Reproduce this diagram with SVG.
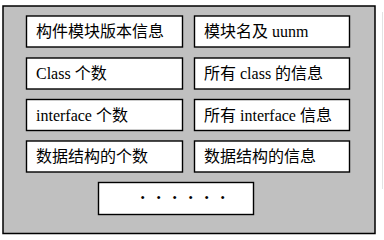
<svg xmlns="http://www.w3.org/2000/svg" width="384" height="240" viewBox="0 0 384 240">
  <style>
    .frame { fill: #c0c0c0; stroke: #000; stroke-width: 1.5; }
    .box { fill: #fff; stroke: #000; stroke-width: 1.4; }
    .label { font-family: "Liberation Serif", "Noto Sans CJK SC", serif; font-size: 16px; fill: #000; }
    .dots { font-family: "Liberation Sans", sans-serif; font-size: 11px; fill: #000; text-anchor: middle; }
  </style>
  <rect width="384" height="240" fill="#fff"/>
  <line x1="382.5" y1="12" x2="382.5" y2="189" stroke="#e2e2e2" stroke-width="1"/>
  <rect class="frame" x="3" y="6" width="372" height="227.5"/>

  <g id="module-version">
    <rect class="box" x="26.5" y="16" width="156" height="31"/>
    <text class="label" x="36" y="37">构件模块版本信息</text>
  </g>
  <g id="module-name">
    <rect class="box" x="194.5" y="16" width="155" height="31"/>
    <text class="label" x="204" y="37">模块名及 uunm</text>
  </g>
  <g id="class-count">
    <rect class="box" x="26.5" y="58" width="156" height="31"/>
    <text class="label" x="36" y="79">Class 个数</text>
  </g>
  <g id="class-info">
    <rect class="box" x="194.5" y="58" width="155" height="31"/>
    <text class="label" x="204" y="79">所有 class 的信息</text>
  </g>
  <g id="interface-count">
    <rect class="box" x="26.5" y="99.5" width="156" height="31"/>
    <text class="label" x="36" y="120.5">interface 个数</text>
  </g>
  <g id="interface-info">
    <rect class="box" x="194.5" y="99.5" width="155" height="31"/>
    <text class="label" x="204" y="120.5">所有 interface 信息</text>
  </g>
  <g id="struct-count">
    <rect class="box" x="26.5" y="141" width="156" height="31"/>
    <text class="label" x="36" y="162">数据结构的个数</text>
  </g>
  <g id="struct-info">
    <rect class="box" x="194.5" y="141" width="155" height="31"/>
    <text class="label" x="204" y="162">数据结构的信息</text>
  </g>
  <g id="more">
    <rect class="box" x="98.5" y="182.5" width="155" height="32"/>
    <text class="dots" x="142.7 158.7 174.7 190.7 206.7 222.7" y="200.5">••••••</text>
  </g>
  <g id="connectors"/>
</svg>
